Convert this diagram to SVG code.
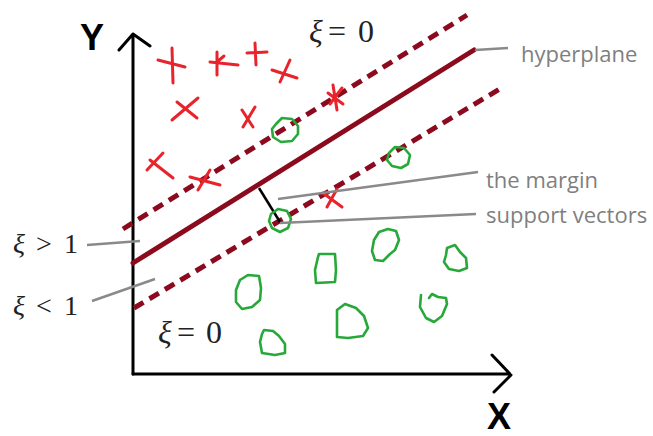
<svg xmlns="http://www.w3.org/2000/svg" width="653" height="436" viewBox="0 0 653 436">
<style>
.axis{stroke:#000;stroke-width:3;fill:none;stroke-linecap:round;stroke-linejoin:round}
.hyper{stroke:#8b0a1e;stroke-width:5;fill:none;stroke-linecap:round}
.dash{stroke:#8b0a1e;stroke-width:5;fill:none;stroke-dasharray:11 7}
.cross{stroke:#e8232b;stroke-width:3;fill:none;stroke-linecap:round}
.blob{stroke:#27a838;stroke-width:2.6;fill:none;stroke-linejoin:round;stroke-linecap:round}
.lead{stroke:#8a8a8a;stroke-width:2.5;fill:none}
.lbl{font-family:"Open Sans","Liberation Sans",sans-serif;font-size:22px;fill:#7f7f7f}
.math{font-family:"Liberation Serif","DejaVu Serif",serif;fill:#222}
.ax{font-family:"Liberation Sans",Arial,sans-serif;font-weight:bold;font-size:36px;fill:#000}
</style>
<rect width="653" height="436" fill="#fff"/>
<g id="axes">
<path class="axis" d="M133,374 L133,34 M119,50 L133,34 L150,46"/>
<path class="axis" d="M133,374 L510,374 M492,355 L511,375 L494,392"/>
<text class="ax" x="80" y="50">Y</text>
<text class="ax" x="487" y="429">X</text>
</g>
<g id="boundaries">
<line class="dash" x1="123" y1="229" x2="467" y2="15"/>
<line class="hyper" x1="133" y1="263" x2="474" y2="50"/>
<line class="dash" x1="134" y1="308" x2="503" y2="87"/>
<line x1="259" y1="188" x2="280" y2="222" stroke="#000" stroke-width="2.5"/>
</g>
<g id="crosses">
<path class="cross" d="M172,48 L173,83 M158,60 L185,67"/>
<path class="cross" d="M217,52 L217,75 M210,62 L238,65 M217,62 L224,56"/>
<path class="cross" d="M255,43 L256,65 M247,53 L267,52"/>
<path class="cross" d="M272,70 L297,78 M290,60 L280,82"/>
<path class="cross" d="M172,120 L198,98 M177,102 L197,118"/>
<path class="cross" d="M242,110 L253,127 M255,107 L243,127"/>
<path class="cross" d="M147,170 L163,153 M150,160 L173,178"/>
<path class="cross" d="M190,177 L220,185 M210,170 L198,190"/>
<path class="cross" d="M333,85 L337,110 M328,93 L343,104 M342,88 L330,104"/>
<path class="cross" d="M323,193 L342,207 M337,189 L327,207"/>
</g>
<g id="circles">
<path class="blob" d="M276,124 L282,118 L292,119 L298,126 L298,134 L292,141 L281,142 L273,137 L272,129 Z"/>
<path class="blob" d="M389,153 L395,147 L404,148 L410,155 L408,164 L401,168 L392,166 L387,160 Z"/>
<path class="blob" d="M271,214 L278,209 L287,211 L291,219 L288,228 L280,232 L272,228 L269,221 Z"/>
<path class="blob" d="M379,232 L388,229 L396,231 L399,240 L395,250 L390,254 L383,261 L375,260 L372,251 L374,240 Z"/>
<path class="blob" d="M447,248 L455,245 L460,252 L466,258 L467,268 L459,271 L449,269 L444,262 L446,255 Z"/>
<path class="blob" d="M318,257 L319,254 L335,254 L336,270 L335,282 L316,283 L315,270 Z"/>
<path class="blob" d="M240,280 L248,275 L259,276 L261,288 L260,300 L252,307 L242,309 L236,302 L236,290 Z"/>
<path class="blob" d="M337,310 L345,304 L356,308 L364,316 L368,328 L363,336 L348,338 L337,337 Z"/>
<path class="blob" d="M421,295 L420,307 L426,318 L434,322 L442,316 L447,304 L446,298 L438,297 L432,294 L429,298"/>
<path class="blob" d="M264,330 L273,331 L279,336 L285,344 L285,353 L275,355 L262,353 L260,342 L262,334 Z"/>
</g>
<g id="connectors">
<line class="lead" x1="475" y1="50" x2="508" y2="48"/>
<line class="lead" x1="278" y1="199" x2="478" y2="172"/>
<line class="lead" x1="280" y1="223" x2="476" y2="214"/>
<line class="lead" x1="87" y1="245" x2="140" y2="241"/>
<line class="lead" x1="92" y1="301" x2="155" y2="279"/>
</g>
<g id="labels">
<text class="lbl" x="521" y="62">hyperplane</text>
<text class="lbl" x="486" y="188">the margin</text>
<text class="lbl" x="486" y="223">support vectors</text>
<text class="math" font-size="32" y="42"><tspan x="309" font-style="italic">ξ</tspan><tspan x="328">=</tspan><tspan x="358">0</tspan></text>
<text class="math" font-size="32" y="343"><tspan x="158" font-style="italic">ξ</tspan><tspan x="177">=</tspan><tspan x="206">0</tspan></text>
<text class="math" font-size="28" y="253"><tspan x="13" font-style="italic">ξ</tspan><tspan x="36">&gt;</tspan><tspan x="64">1</tspan></text>
<text class="math" font-size="28" y="315"><tspan x="13" font-style="italic">ξ</tspan><tspan x="36">&lt;</tspan><tspan x="64">1</tspan></text>
</g>
</svg>
